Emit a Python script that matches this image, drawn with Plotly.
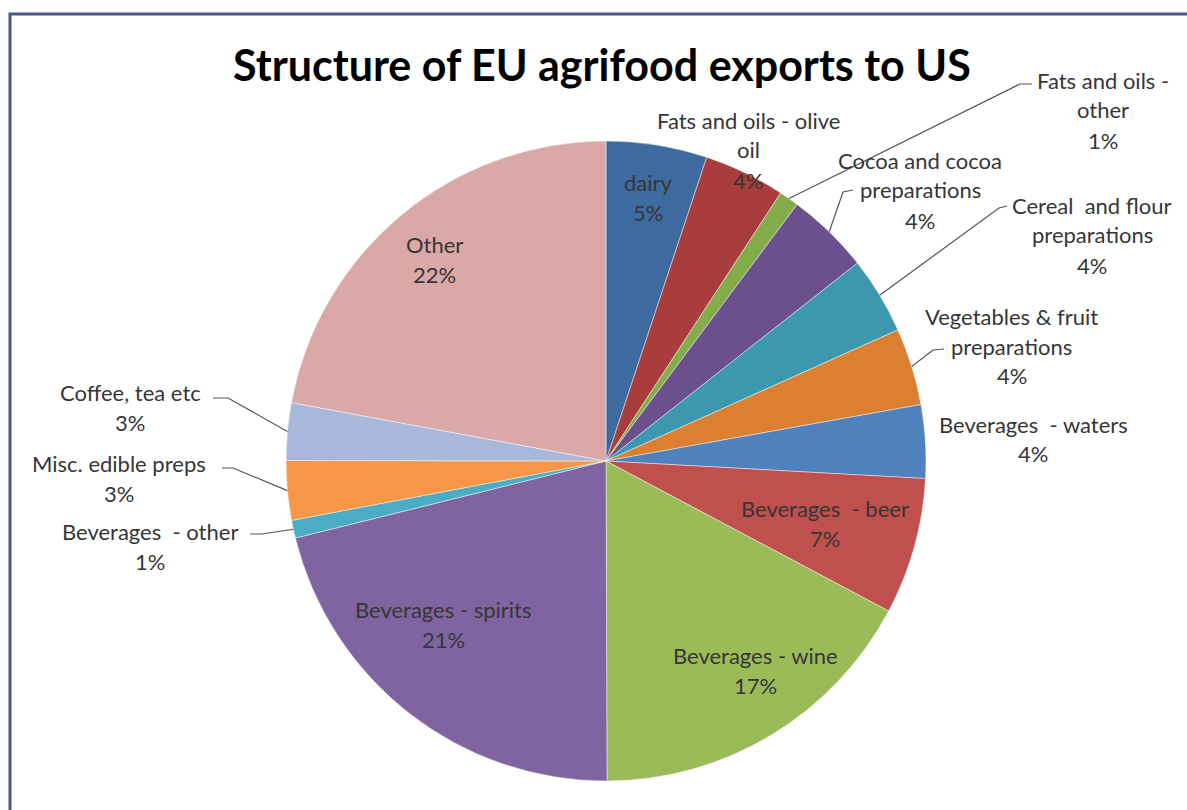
import math
import plotly.graph_objects as go

# ---------------- data ----------------
labels = [
    "dairy", "Fats and oils - olive oil", "Fats and oils - other",
    "Cocoa and cocoa preparations", "Cereal and flour preparations",
    "Vegetables & fruit preparations", "Beverages - waters", "Beverages - beer",
    "Beverages - wine", "Beverages - spirits", "Beverages - other",
    "Misc. edible preps", "Coffee, tea etc", "Other",
]
values = [5.1, 4.1, 1.0, 4.2, 3.9, 3.9, 3.7, 6.9, 17.2, 21.2, 0.9, 3.0, 2.9, 22.1]
label_lines = [
    ["dairy"], ["Fats and oils - olive", "oil"], ["Fats and oils -", "other"],
    ["Cocoa and cocoa", "preparations"], ["Cereal  and flour", "preparations"],
    ["Vegetables &amp; fruit", "preparations"], ["Beverages  - waters"], ["Beverages  - beer"],
    ["Beverages - wine"], ["Beverages - spirits"], ["Beverages  - other"],
    ["Misc. edible preps"], ["Coffee, tea etc"], ["Other"],
]
colors = [
    "#3E6B9F", "#A83D3B", "#84AC4A", "#6C4F8D", "#3B98AE", "#DB7F31", "#4F81BD",
    "#C0504D", "#9BBB59", "#8064A2", "#4BACC6", "#F79646", "#A7B8DA", "#D9A8A7",
]
title_text = "Structure of EU agrifood exports to US"

# ---------------- layout helpers ----------------
W, H = 1187, 810
CX, CY, R = 606, 461, 320


def px(x):
    return x / W


def py(y):
    return 1 - y / H


# label block placement (center x, first line center y) in pixels
label_pos = [
    (648, 182), (748, 120), (1103, 80), (920, 160), (1092, 205), (1012, 316),
    (1033, 424), (825, 508), (755, 655), (443, 609), (150, 531), (119, 463),
    (130, 392), (434, 244),
]
LINE_GAP = 30

# leader lines: index -> (elbow, end) in pixels
leaders = {
    2: ((1020, 84), (1032, 84)),
    3: ((843, 192), (853, 190)),
    4: ((999, 208), (1007, 206)),
    5: ((933, 350), (944, 349)),
    10: ((262, 534), (250, 534)),
    11: ((233, 468), (222, 468)),
    12: ((228, 398), (213, 398)),
}

total = sum(values)
pcts = [round(v / total * 100) for v in values]

fig = go.Figure(
    go.Pie(
        labels=labels,
        values=values,
        sort=False,
        direction="clockwise",
        rotation=0,
        marker=dict(colors=colors, line=dict(color="rgba(255,255,255,0.55)", width=0.8)),
        textinfo="none",
        hoverinfo="label+percent",
        showlegend=False,
        domain=dict(x=[px(CX - R), px(CX + R)], y=[py(CY + R), py(CY - R)]),
    )
)

annotations = []
FONT = dict(family="Lato, Open Sans, sans-serif", size=22, color="#363636")
for i, (lines, (x, y)) in enumerate(zip(label_lines, label_pos)):
    all_lines = lines + [f"{pcts[i]}%"]
    for k, t in enumerate(all_lines):
        annotations.append(dict(
            x=px(x), y=py(y + k * LINE_GAP), xref="paper", yref="paper",
            text=t, showarrow=False, font=FONT, xanchor="center", yanchor="middle",
        ))

annotations.append(dict(
    x=px(602), y=py(64), xref="paper", yref="paper", text=title_text, showarrow=False,
    font=dict(family="Lato, Open Sans, sans-serif", size=43, color="#000000", weight="bold"),
    xanchor="center", yanchor="middle",
))

shapes = []
cum = 0.0
mids = []
for v in values:
    mids.append((cum + v / 2) / total * 2 * math.pi)
    cum += v
for i, (elbow, end) in leaders.items():
    a = mids[i]
    ex = CX + R * math.sin(a)
    ey = CY - R * math.cos(a)
    path = (f"M {px(ex)},{py(ey)} L {px(elbow[0])},{py(elbow[1])} "
            f"L {px(end[0])},{py(end[1])}")
    shapes.append(dict(type="path", xref="paper", yref="paper", path=path,
                       line=dict(color="#555555", width=1.2)))

# outer frame (top and left edges visible)
shapes.append(dict(type="rect", xref="paper", yref="paper",
                   x0=px(10), x1=1.05, y0=-0.05, y1=py(14),
                   line=dict(color="#4E5888", width=3)))

fig.update_layout(
    width=W, height=H,
    margin=dict(l=0, r=0, t=0, b=0),
    paper_bgcolor="white", plot_bgcolor="white",
    annotations=annotations, shapes=shapes,
)

fig.write_html(
    "out.html",
    config={"displayModeBar": False},
    post_script="document.body.style.margin='0';document.body.style.overflow='hidden';",
)
